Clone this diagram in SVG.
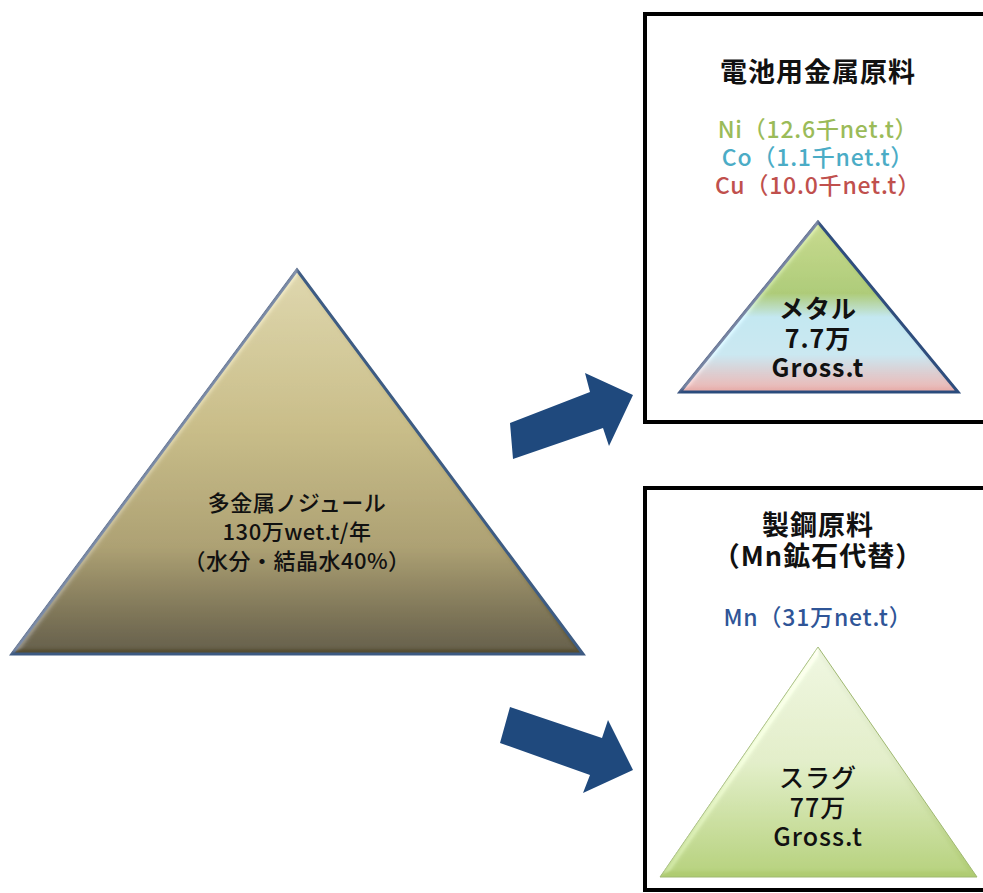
<svg xmlns="http://www.w3.org/2000/svg" width="983" height="893" viewBox="0 0 983 893">
<style>
text{font-family:"Noto Sans CJK JP","Noto Sans",sans-serif;text-anchor:middle;fill:#111}
.big{font-size:22px;font-weight:500;letter-spacing:0.5px}
.title{font-size:27px;font-weight:bold;letter-spacing:1px}
.elem{font-size:23px;font-weight:500;letter-spacing:0.8px}
.tri{font-size:25px;font-weight:bold;letter-spacing:1px}
.box{fill:#fff;stroke:#000;stroke-width:4}
.arrow{fill:#1F497D}
</style>
<defs>
<linearGradient id="gSrc" x1="0" y1="0" x2="0" y2="1">
<stop offset="0" stop-color="#d9d1a6"/>
<stop offset="0.4" stop-color="#c3b77f"/>
<stop offset="0.72" stop-color="#a59865"/>
<stop offset="1" stop-color="#534b2e"/>
</linearGradient>
<linearGradient id="gMetal" x1="0" y1="0" x2="0" y2="1">
<stop offset="0" stop-color="#c2d585"/>
<stop offset="0.42" stop-color="#a6c56c"/>
<stop offset="0.56" stop-color="#bde2ec"/>
<stop offset="0.78" stop-color="#c4e2ec"/>
<stop offset="1" stop-color="#eaaca8"/>
</linearGradient>
<linearGradient id="gSlag" x1="0" y1="0" x2="0" y2="1">
<stop offset="0" stop-color="#eaf2dc"/>
<stop offset="0.5" stop-color="#dde9c3"/>
<stop offset="1" stop-color="#aecb70"/>
</linearGradient>
<filter id="bevel" x="-5%" y="-5%" width="110%" height="110%">
<feGaussianBlur in="SourceAlpha" stdDeviation="3" result="b"/>
<feSpecularLighting in="b" surfaceScale="3" specularConstant="0.7" specularExponent="16" lighting-color="#ffffff" result="s">
<feDistantLight azimuth="235" elevation="40"/>
</feSpecularLighting>
<feComposite in="s" in2="SourceAlpha" operator="in" result="s2"/>
<feComposite in="SourceGraphic" in2="s2" operator="arithmetic" k1="0" k2="1" k3="0.3" k4="0"/>
</filter>
</defs>

<g id="connectors">
<polygon class="arrow" points="510,423 590,392 585,373 633,395 609,446 603,428 513,459"/>
<polygon class="arrow" points="510,707 602,738 608,720 633,770 583,793 590,775 500,743"/>
</g>

<g id="node-source">
<polygon points="297,270 12,654 583,654" fill="url(#gSrc)" stroke="#3c5a82" stroke-width="3" filter="url(#bevel)"/>
<text class="big" x="297" y="511">多金属ノジュール</text>
<text class="big" x="297" y="540">130万wet.t/年</text>
<text class="big" x="297" y="569">（水分・結晶水40%）</text>
</g>

<g id="node-battery">
<rect class="box" x="645" y="14" width="360" height="408"/>
<text class="title" x="818" y="82">電池用金属原料</text>
<text class="elem" x="818" y="138" style="fill:#9BBB59">Ni（12.6千net.t）</text>
<text class="elem" x="818" y="166" style="fill:#4BACC6">Co（1.1千net.t）</text>
<text class="elem" x="818" y="194" style="fill:#C0504D">Cu（10.0千net.t）</text>
<polygon points="818,222 680,392 958,392" fill="url(#gMetal)" stroke="#2c4c7c" stroke-width="3" filter="url(#bevel)"/>
<text class="tri" x="818" y="318">メタル</text>
<text class="tri" x="818" y="348">7.7万</text>
<text class="tri" x="818" y="377">Gross.t</text>
</g>

<g id="node-steel">
<rect class="box" x="645" y="488" width="360" height="402"/>
<text class="title" x="818" y="535">製鋼原料</text>
<text class="title" x="818" y="566">（Mn鉱石代替）</text>
<text class="elem" x="818" y="626" style="fill:#2F5597">Mn（31万net.t）</text>
<polygon points="818,647 660,877 977,877" fill="url(#gSlag)" stroke="#9fb870" stroke-width="1" filter="url(#bevel)"/>
<text class="tri" x="818" y="787" style="font-weight:500">スラグ</text>
<text class="tri" x="818" y="817" style="font-weight:500">77万</text>
<text class="tri" x="818" y="846" style="font-weight:500">Gross.t</text>
</g>
</svg>
